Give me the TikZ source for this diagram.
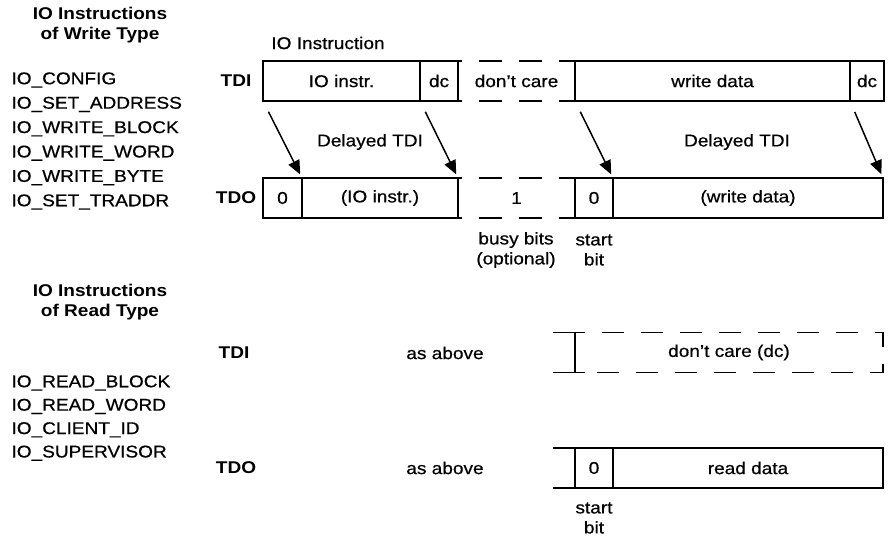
\documentclass[tikz,border=0pt]{standalone}
\usepackage{fontspec}
\setmainfont{Liberation Sans}[FakeStretch=1.12,UprightFeatures={FakeBold=0.6}]
\usetikzlibrary{arrows.meta}

\begin{document}
\begin{tikzpicture}[x=1pt,y=-1pt,font=\fontsize{17}{20}\selectfont,
  field/.style={draw,line width=1.8pt,minimum height=40pt,inner sep=0pt,outer sep=0pt,anchor=west},
  gapline/.style={line width=1.8pt,dash pattern=on 4pt off 17pt on 23pt off 17pt on 23pt off 17pt on 40pt},
  delay/.style={line width=1.5pt,-{Triangle[length=14pt,width=12pt]},shorten <=12pt,shorten >=4pt},
  head/.style={font=\fontsize{17}{20}\selectfont\bfseries,align=center},
  sig/.style={font=\fontsize{17}{20}\selectfont\bfseries},
  note/.style={align=center}]
\useasboundingbox (0,0) rectangle (889,536);

% write type
\node[head] (whead) at (100,25) {IO Instructions\\of Write Type};
\foreach \n [count=\i] in {IO\_CONFIG,IO\_SET\_ADDRESS,IO\_WRITE\_BLOCK,IO\_WRITE\_WORD,IO\_WRITE\_BYTE,IO\_SET\_TRADDR}
  \node[anchor=west] (w\i) at (8,80+24.4*\i-24.4) {\n};

\node (ioinstr) at (328,43) {IO Instruction};
\node[sig] (tdi) at (236,81) {TDI};
\node[field,minimum width=157pt] (wi1) at (263,81) {IO instr.};
\node[field,minimum width=38pt] (wi2) at (wi1.east) {dc};
\node[field,draw=none,minimum width=117pt] (wi3) at (wi2.east) {don't care};
\node[field,minimum width=275pt] (wi4) at (wi3.east) {write data};
\node[field,minimum width=34pt] (wi5) at (wi4.east) {dc};
\draw[gapline] (wi2.north east) -- (wi4.north west);
\draw[gapline] (wi2.south east) -- (wi4.south west);

\node[sig] (tdo) at (236,198) {TDO};
\node[field,minimum width=39pt] (wo1) at (263,198) {0};
\node[field,minimum width=156pt] (wo2) at (wo1.east) {(IO instr.)};
\node[field,draw=none,minimum width=117pt] (wo3) at (wo2.east) {1};
\node[field,minimum width=38pt] (wo4) at (wo3.east) {0};
\node[field,minimum width=270pt] (wo5) at (wo4.east) {(write data)};
\draw[gapline] (wo2.north east) -- (wo4.north west);
\draw[gapline] (wo2.south east) -- (wo4.south west);

\draw[delay] (wi1.south west) -- (wo1.north east);
\draw[delay] (wi2.south west) -- (wo2.north east);
\draw[delay] (wi4.south west) -- (wo4.north east);
\draw[delay] (wi5.south west) -- (wo5.north east);
\node (dl1) at (370,142) {Delayed TDI};
\node (dl2) at (737,142) {Delayed TDI};
\node[note] (busy) at (516,250) {busy bits\\(optional)};
\node[note] (start1) at (594,250) {start\\bit};

% read type
\node[head] (rhead) at (100,302) {IO Instructions\\of Read Type};
\foreach \n [count=\i] in {IO\_READ\_BLOCK,IO\_READ\_WORD,IO\_CLIENT\_ID,IO\_SUPERVISOR}
  \node[anchor=west] (r\i) at (8,383+23.4*\i-23.4) {\n};

\node[sig] (rtdi) at (234,353) {TDI};
\node (above1) at (445,353) {as above};
\node[field,draw=none,minimum width=308pt] (rd) at (575,352.5) {don't care (dc)};
\draw[line width=1.8pt] ([xshift=-22pt]rd.north west) -- ([xshift=10pt]rd.north west)
  ([xshift=-22pt]rd.south west) -- ([xshift=10pt]rd.south west)
  (rd.north west) -- (rd.south west);
\draw[line width=1.8pt,dash pattern=on 22pt off 17pt,dash phase=22pt]
  ([xshift=10pt]rd.north west) -- (rd.north east) -- (rd.south east) -- ([xshift=10pt]rd.south west);

\node[sig] (rtdo) at (236,468) {TDO};
\node (above2) at (445,468) {as above};
\node[field,minimum width=38pt] (ro1) at (575,468) {0};
\node[field,minimum width=270pt] (ro2) at (ro1.east) {read data};
\draw[line width=1.8pt] ([xshift=-22pt]ro1.north west) -- (ro1.north west)
  ([xshift=-22pt]ro1.south west) -- (ro1.south west);
\node[note] (start2) at (594,518) {start\\bit};
\end{tikzpicture}
\end{document}
